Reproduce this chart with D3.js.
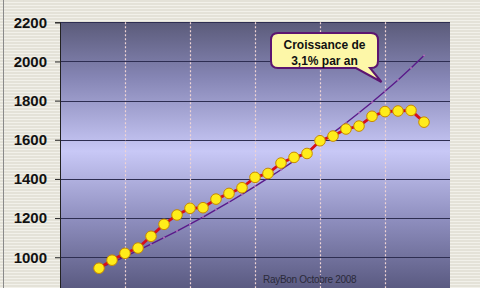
<!DOCTYPE html>
<html>
<head>
<meta charset="utf-8">
<script src="https://cdn.jsdelivr.net/npm/d3@7"></script>
<style>
  body { margin: 0; background: #fff; }
  svg { display: block; font-family: Arial, "Liberation Sans", sans-serif; }
</style>
</head>
<body>
<svg id="chart" width="480" height="288"></svg>
<script>
// periods on the x axis (30 slots, 5 per gridline band)
var periods = [3, 4, 5, 6, 7, 8, 9, 10, 11, 12, 13, 14, 15, 16, 17, 18, 19, 20, 21, 22, 23, 24, 25, 26, 27, 28];
var values = [944, 985, 1020, 1047, 1107, 1168, 1216, 1250, 1253, 1297, 1326, 1355, 1408, 1428, 1481, 1510, 1530, 1595, 1619, 1655, 1670, 1720, 1744, 1747, 1750, 1690];
// trend "3,1% par an"
var trend = [944, 973, 1003, 1035, 1067, 1100, 1134, 1169, 1205, 1243, 1281, 1321, 1362, 1404, 1447, 1492, 1539, 1586, 1635, 1686, 1738, 1792, 1848, 1905, 1966, 2030];
var yTicks = [1000, 1200, 1400, 1600, 1800, 2000, 2200];
var xGrid = [5, 10, 15, 20, 25];
var calloutLines = ["Croissance de", "3,1% par an"];
var credit = "RayBon Octobre 2008";

var svg = d3.select("#chart");
var W = 480, H = 288;
var plotLeft = 60, plotRight = 450, plotTop = 22.3, plotBottom = 296.4;

var x = d3.scaleLinear().domain([0, 30]).range([plotLeft, plotRight]);
var y = d3.scaleLinear().domain([800, 2200]).range([plotBottom, plotTop]);

var defs = svg.append("defs");

// striped beige backdrop
var pat = defs.append("pattern").attr("id", "stripes")
  .attr("width", 6).attr("height", 3).attr("patternUnits", "userSpaceOnUse");
pat.append("rect").attr("width", 6).attr("height", 3).attr("fill", "#e4e2d8");
pat.append("rect").attr("y", 2).attr("width", 6).attr("height", 1).attr("fill", "#f2f1ea");

var grad = defs.append("linearGradient").attr("id", "plotbg")
  .attr("x1", 0).attr("y1", 0).attr("x2", 0).attr("y2", 1);
grad.append("stop").attr("offset", "0%").attr("stop-color", "#5b5b7a");
grad.append("stop").attr("offset", "20%").attr("stop-color", "#8585b4");
grad.append("stop").attr("offset", "47%").attr("stop-color", "#c8c8f6");
grad.append("stop").attr("offset", "72%").attr("stop-color", "#8e8ebe");
grad.append("stop").attr("offset", "100%").attr("stop-color", "#54547a");

svg.append("rect").attr("width", W).attr("height", H).attr("fill", "url(#stripes)");
svg.append("line").attr("x1", 3.5).attr("x2", 3.5).attr("y1", 0).attr("y2", H)
  .attr("stroke", "#8a8a8a").attr("stroke-width", 1);

svg.append("rect")
  .attr("x", plotLeft).attr("y", plotTop)
  .attr("width", plotRight - plotLeft).attr("height", plotBottom - plotTop)
  .attr("fill", "url(#plotbg)");

// horizontal gridlines + axis
svg.append("g").selectAll("line").data(yTicks).enter().append("line")
  .attr("x1", plotLeft).attr("x2", plotRight)
  .attr("y1", function(d) { return Math.round(y(d)) + 0.5; })
  .attr("y2", function(d) { return Math.round(y(d)) + 0.5; })
  .attr("stroke", "#2e2e52").attr("stroke-width", 1);

var yAxis = svg.append("g")
  .attr("transform", "translate(" + plotLeft + ",0)")
  .call(d3.axisLeft(y).tickValues(yTicks).tickSize(5).tickPadding(8).tickFormat(d3.format("d")));
yAxis.select(".domain").attr("stroke", "#222");
yAxis.selectAll(".tick line").attr("stroke", "#222");
yAxis.selectAll("text")
  .attr("fill", "#111").style("font-size", "15px").style("font-weight", "bold")
  .style("font-family", "Arial, 'Liberation Sans', sans-serif");

// dotted vertical gridlines
svg.append("g").selectAll("line").data(xGrid).enter().append("line")
  .attr("x1", function(d) { return Math.round(x(d)) + 0.5; })
  .attr("x2", function(d) { return Math.round(x(d)) + 0.5; })
  .attr("y1", plotTop).attr("y2", plotBottom)
  .attr("stroke", "#f0d4d4").attr("stroke-width", 1.2)
  .attr("stroke-dasharray", "2,2");

// trend line
var trendLine = d3.line()
  .x(function(d, i) { return x(periods[i]); })
  .y(function(d) { return y(d); });
svg.append("path").datum(trend)
  .attr("d", trendLine)
  .attr("fill", "none").attr("stroke", "#5a1a8a").attr("stroke-width", 1.4);
svg.append("g").selectAll("circle").data(trend).enter().append("circle")
  .attr("cx", function(d, i) { return x(periods[i]); })
  .attr("cy", function(d) { return y(d); })
  .attr("r", 1).attr("fill", "#b070b8");

// main series
var line = d3.line()
  .x(function(d, i) { return x(periods[i]); })
  .y(function(d) { return y(d); });
svg.append("path").datum(values)
  .attr("d", line)
  .attr("fill", "none").attr("stroke", "#d80f1a").attr("stroke-width", 2.8)
  .attr("stroke-linejoin", "round");
svg.append("g").selectAll("circle").data(values).enter().append("circle")
  .attr("cx", function(d, i) { return x(periods[i]); })
  .attr("cy", function(d) { return y(d); })
  .attr("r", 5.3)
  .attr("fill", "#ffec1a").attr("stroke", "#c88a00").attr("stroke-width", 1);

// callout bubble
var bx0 = 271, bx1 = 378, by0 = 33, by1 = 68, r = 7;
var tip = [381.5, 82];
var bubble = "M" + (bx0 + r) + "," + by0 +
  " L" + (bx1 - r) + "," + by0 +
  " Q" + bx1 + "," + by0 + " " + bx1 + "," + (by0 + r) +
  " L" + bx1 + "," + (by1 - r) +
  " Q" + bx1 + "," + by1 + " " + (bx1 - r) + "," + by1 +
  " L" + 370 + "," + by1 +
  " L" + tip[0] + "," + tip[1] +
  " L" + 356 + "," + by1 +
  " L" + (bx0 + r) + "," + by1 +
  " Q" + bx0 + "," + by1 + " " + bx0 + "," + (by1 - r) +
  " L" + bx0 + "," + (by0 + r) +
  " Q" + bx0 + "," + by0 + " " + (bx0 + r) + "," + by0 + " Z";
svg.append("path").attr("d", bubble)
  .attr("fill", "#fdf7a8").attr("stroke", "#5c1570").attr("stroke-width", 2);
svg.append("g").selectAll("text").data(calloutLines).enter().append("text")
  .attr("x", (bx0 + bx1) / 2)
  .attr("y", function(d, i) { return 48.5 + i * 16; })
  .attr("text-anchor", "middle")
  .style("font-size", "12px").style("font-weight", "bold").attr("fill", "#111")
  .text(function(d) { return d; });

// credit
svg.append("text")
  .attr("x", 263).attr("y", 283)
  .style("font-size", "10px").attr("fill", "#2a2a3a")
  .style("letter-spacing", "-0.3px")
  .text(credit);
</script>
</body>
</html>
